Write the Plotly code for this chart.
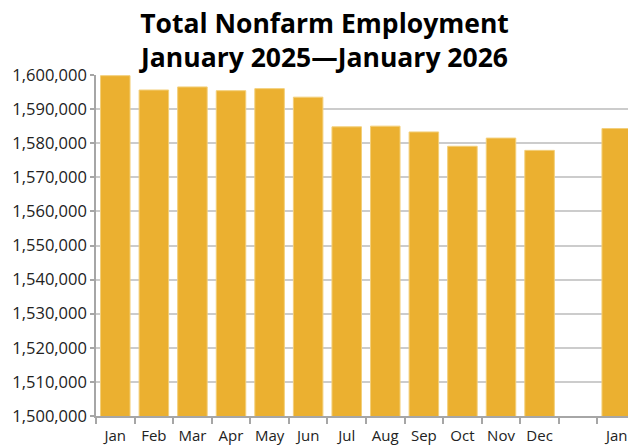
import plotly.graph_objects as go

categories = ["Jan", "Feb", "Mar", "Apr", "May", "Jun", "Jul", "Aug", "Sep", "Oct", "Nov", "Dec", " ", "Jan "]
tick_labels = ["Jan", "Feb", "Mar", "Apr", "May", "Jun", "Jul", "Aug", "Sep", "Oct", "Nov", "Dec", "", "Jan"]
employment = [1599800, 1595600, 1596500, 1595400, 1596000, 1593500, 1584800, 1585000,
              1583300, 1579100, 1581500, 1577900, None, 1584300]
y_ticks = list(range(1500000, 1600001, 10000))

fig = go.Figure()
fig.add_trace(go.Bar(
    x=categories, y=employment,
    marker=dict(color="#EBB030", line=dict(color="#F3CF7A", width=1)),
    hoverinfo="x+y",
))

fig.update_layout(
    width=628, height=439,
    margin=dict(l=88, r=0, t=67, b=31, autoexpand=False),
    paper_bgcolor="white", plot_bgcolor="white",
    bargap=0.235,
    showlegend=False,
    font=dict(family="Open Sans", color="#222222"),
    title=dict(
        text="<b>Total Nonfarm Employment<br>January 2025\u2014January 2026</b>",
        x=0.504, xanchor="center", y=0.944, yanchor="top",
        font=dict(family="Open Sans", size=26.5, color="#000000"),
    ),
)
fig.update_xaxes(
    type="category",
    categoryorder="array", categoryarray=categories,
    tickmode="array", tickvals=categories, ticktext=tick_labels,
    tickson="boundaries", tickangle=0, automargin=False,
    ticks="outside", ticklen=6, tickcolor="#a6a6a6", tickwidth=1.5,
    ticklabelstandoff=5,
    showline=True, linecolor="#a6a6a6", linewidth=1.5,
    showgrid=False,
    tickfont=dict(family="Open Sans", size=15, color="#222222"),
)
fig.update_yaxes(
    range=[1500000, 1600000], automargin=False,
    tickmode="array", tickvals=y_ticks,
    ticktext=[f"{v:,}" for v in y_ticks],
    ticks="outside", ticklen=4, tickcolor="#a6a6a6", tickwidth=1.5,
    showline=True, linecolor="#a6a6a6", linewidth=1.5,
    showgrid=True, gridcolor="#cccccc", gridwidth=1.5,
    zeroline=False,
    tickfont=dict(family="Open Sans", size=16.5, color="#222222"),
)

fig.write_html("out.html")
